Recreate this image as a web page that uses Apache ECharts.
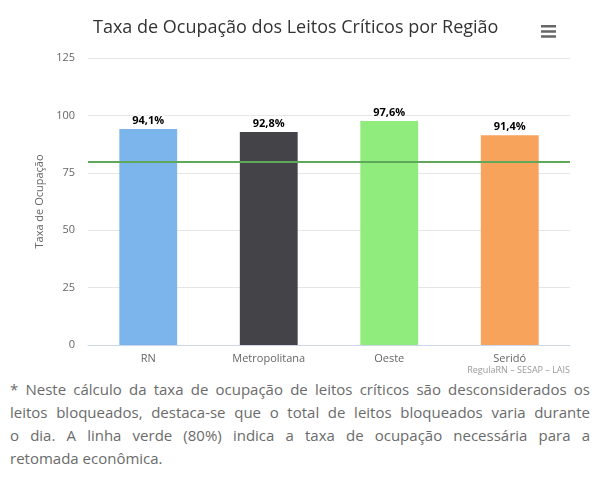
<!DOCTYPE html>
<html>
<head>
<meta charset="utf-8">
<title>Taxa de Ocupação dos Leitos Críticos por Região</title>
<script src="https://cdn.jsdelivr.net/npm/echarts@6/dist/echarts.min.js"></script>
<style>
  html, body { margin: 0; padding: 0; background: #fff; }
  #chart { width: 597px; height: 378px; }
  .nota {
    margin: 0; padding: 0 7px 0 10px;
    font-family: "Open Sans", "Noto Sans", sans-serif;
    font-size: 15px; line-height: 23px; color: #6b6b6b;
  }
  .nota span { display: block; text-align: justify; text-align-last: justify; }
  .nota span.fim { text-align-last: left; }
</style>
</head>
<body>
<div id="chart"></div>
<p class="nota"><span>* Neste cálculo da taxa de ocupação de leitos críticos são desconsiderados os</span><span>leitos bloqueados, destaca-se que o total de leitos bloqueados varia durante</span><span>o dia. A linha verde (80%) indica a taxa de ocupação necessária para a</span><span class="fim">retomada econômica.</span></p>
<script>
// dados do grafico
let regioes = ['RN', 'Metropolitana', 'Oeste', 'Seridó'];
let ocupacao = [94.1, 92.8, 97.6, 91.4];
let meta = 80;
let yMax = 125;
let yPasso = 25;

let cores = ['#7cb5ec', '#434348', '#90ed7d', '#f7a35c'];

let myChart = echarts.init(document.getElementById('chart'));

myChart.setOption({
  animation: false,
  textStyle: { fontFamily: '"Open Sans", sans-serif' },
  title: {
    text: 'Taxa de Ocupação dos Leitos Críticos por Região',
    left: 88,
    top: 14,
    textStyle: { fontSize: 18, fontWeight: 'normal', color: '#333333' }
  },
  toolbox: {
    right: 26,
    top: 10,
    itemSize: 15,
    feature: {
      myMenu: {
        show: true,
        title: 'Menu',
        icon: 'path://M0,0H14V2.4H0Z M0,4.8H14V7.2H0Z M0,9.6H14V12H0Z',
        onclick: function () {}
      }
    },
    iconStyle: { color: '#666666', borderColor: '#666666', borderWidth: 0 }
  },
  graphic: [{
    type: 'text',
    right: 27,
    bottom: 3,
    style: {
      text: 'RegulaRN – SESAP – LAIS',
      fontSize: 9,
      fill: '#999999',
      fontFamily: '"Open Sans", sans-serif'
    }
  }],
  grid: { left: 88, right: 27, top: 58, bottom: 33 },
  xAxis: {
    type: 'category',
    data: regioes,
    axisLine: { lineStyle: { color: '#ccd6eb' } },
    axisTick: { show: false },
    axisLabel: { color: '#666666', fontSize: 11, margin: 8 }
  },
  yAxis: {
    type: 'value',
    min: 0,
    max: yMax,
    interval: yPasso,
    name: 'Taxa de Ocupação',
    nameLocation: 'middle',
    nameGap: 41,
    nameTextStyle: { color: '#666666', fontSize: 11 },
    axisLabel: { color: '#666666', fontSize: 11, margin: 13 },
    splitLine: { lineStyle: { color: '#e6e6e6' } }
  },
  series: [{
    type: 'bar',
    barWidth: '48%',
    data: ocupacao.map(function (v, i) {
      return { value: v, itemStyle: { color: cores[i] } };
    }),
    label: {
      show: true,
      position: 'top',
      distance: 3,
      fontSize: 11,
      fontWeight: 'bold',
      color: '#000000',
      textBorderColor: '#ffffff',
      textBorderWidth: 2,
      formatter: function (p) {
        return p.value.toFixed(1).replace('.', ',') + '%';
      }
    },
    markLine: {
      silent: true,
      symbol: 'none',
      label: { show: false },
      lineStyle: { color: '#5fa75a', width: 2, type: 'solid' },
      data: [{ yAxis: meta }]
    }
  }]
});
</script>
</body>
</html>
